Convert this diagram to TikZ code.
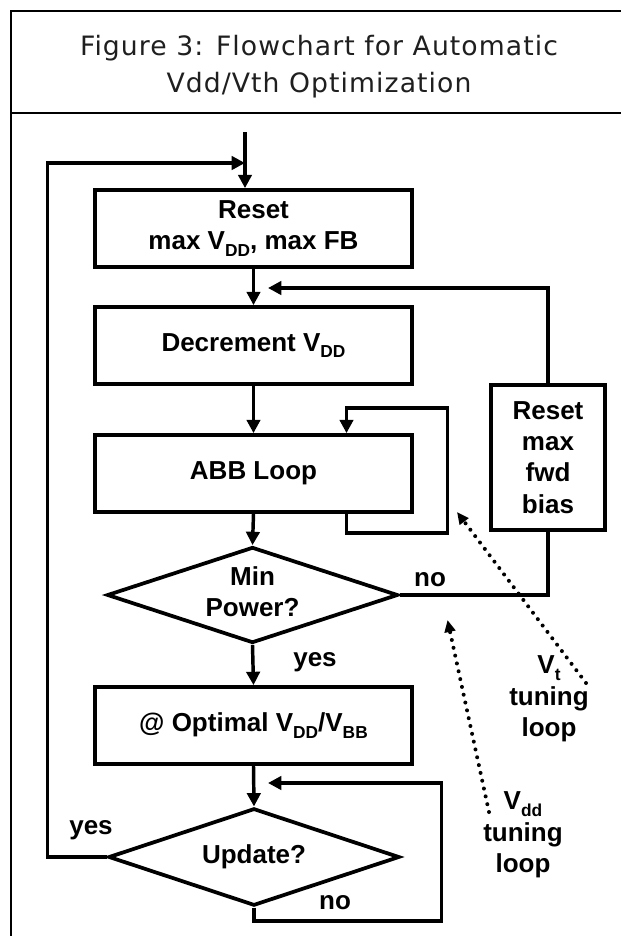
\documentclass[tikz,border=0pt]{standalone}
\usepackage{fontspec}
\setmainfont{Liberation Sans}
\newfontfamily\titlefont[LetterSpace=4]{DejaVu Sans}
\usetikzlibrary{shapes.geometric,arrows.meta,calc}
% lowered, smaller subscript used in V_DD, V_BB, ...
\newcommand\lowsub[1]{\raisebox{-5pt}{\fontsize{13pt}{13pt}\selectfont #1}}
\newcommand\flowfont{\fontsize{19.5pt}{23.5pt}\selectfont\bfseries}
\begin{document}
\begin{tikzpicture}[x=0.75pt,y=-0.75pt,
  box/.style={draw, line width=2.8pt, minimum width=237.75pt, minimum height=57.75pt,
              inner sep=0pt, font=\flowfont, align=center},
  dia/.style={diamond, draw, line width=2.8pt, inner sep=0pt},
  wire/.style={line width=2.6pt},
  arr/.style={line width=2.6pt, -{Triangle[length=10pt,width=10pt]}},
  dots/.style={line width=3pt, line cap=round, dash pattern=on 0pt off 6pt,
               -{Triangle[length=9pt,width=8pt]}},
  lab/.style={font=\flowfont, align=center, inner sep=0pt},
  ttl/.style={anchor=base, inner sep=0pt, text=black!88,
              font=\titlefont\fontsize{20pt}{20pt}\selectfont}]

\fill[white] (0,0) rectangle (621,936);
\useasboundingbox (0,0) rectangle (621,936);

% table frame and header rule
\draw[line width=1pt] (11,936) -- (11,11) -- (621,11);
\draw[line width=1.5pt] (11,113) -- (621,113);

% caption
\node[ttl] (cap1) at (319,55) {Figure 3: Flowchart for Automatic};
\node[ttl] (cap2) at (319,92) {Vdd/Vth Optimization};

% process boxes
\node[box] (reset) at (253.5,228.5) {Reset\\max V\lowsub{DD}, max FB};
\node[box] (dec)   at (253.5,345.5) {Decrement V\lowsub{DD}};
\node[box] (abb)   at (253.5,473.5) {ABB Loop};
\node[box] (opt)   at (253.5,725.5) {@ Optimal V\lowsub{DD}/V\lowsub{BB}};
\node[box, minimum width=85.5pt, minimum height=108.75pt] (rfb) at (548,457.5)
     {Reset\\max\\fwd\\bias};

% decisions
\node[dia, minimum width=218.25pt, minimum height=72pt] (minpow) at (252.5,595) {};
\node[lab] (minpowtxt) at (252.5,592) {Min\\Power?};
\node[dia, minimum width=218.25pt, minimum height=73pt] (update) at (254,857) {};
\node[lab] (updatetxt) at (254,857) {Update?};

% helper points of the connectors
\coordinate (topin) at (245,132);
\coordinate (loopL) at (47.5,163);
\coordinate (fb1)   at (268,288);
\coordinate (lpA)   at (346.5,533);
\coordinate (lpB)   at (447.5,408);
\coordinate (nl)    at (441.5,921);
\coordinate (fb2)   at (268,783);

% main flow
\draw[arr] (topin) -- (topin |- reset.north);
\draw[arr] (reset) -- (dec);
\draw[arr] (dec) -- (abb);
\draw[arr] (abb.south) -- (minpow.north);
\draw[arr] (minpow.south) -- (opt.north);
\draw[arr] (opt.south) -- (update.north);

% loops
\draw[arr] (update.west) -| (loopL) -- (topin |- loopL);
\draw[arr] (rfb.north) |- (fb1);
\draw[arr] (lpA |- abb.south) -- (lpA) -| (lpB) -| (lpA |- abb.north);
\draw[wire] (minpow.east) -| (rfb.south);
\draw[arr] (update.south) |- (nl) |- (fb2);

% branch labels
\node[lab] (no1)  at (430,580) {no};
\node[lab] (yes1) at (315,662) {yes};
\node[lab] (no2)  at (335,903) {no};
\node[lab] (yes2) at (91,830)  {yes};

% tuning loop annotations
\node[lab] (vt)  at (549,699) {V\lowsub{t}\\tuning\\loop};
\node[lab] (vdd) at (523,835) {V\lowsub{dd}\\tuning\\loop};
\coordinate (vtS) at (586,683);
\coordinate (vtE) at (457,512);
\coordinate (vdS) at (489,812);
\coordinate (vdE) at (447.5,620);
\draw[dots] (vtS) -- (vtE);
\draw[dots] (vdS) -- (vdE);
\end{tikzpicture}
\end{document}
